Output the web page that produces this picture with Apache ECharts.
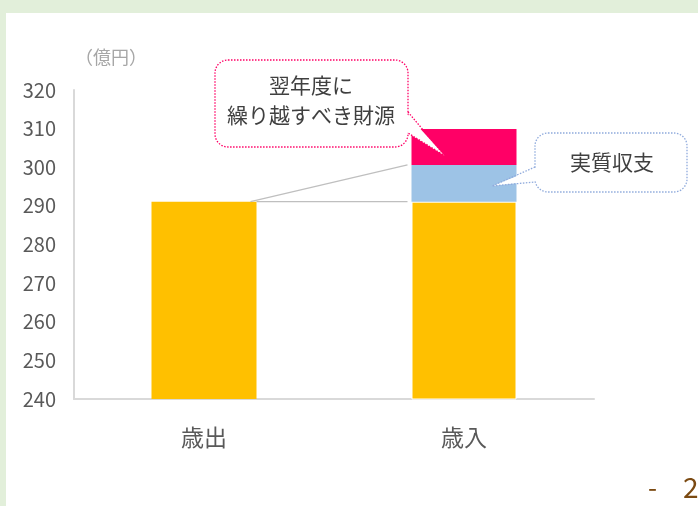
<!DOCTYPE html>
<html>
<head>
<meta charset="utf-8">
<script src="https://cdn.jsdelivr.net/npm/echarts@6/dist/echarts.min.js"></script>
<style>
  html, body { margin: 0; padding: 0; background: #fff; }
  #main { width: 698px; height: 506px; }
</style>
</head>
<body>
<div id="main"></div>
<script>
// data (億円)
const categories = ['歳出', '歳入']
const baseValues = [291.1, 291.1]          // 歳出 / 歳入 (yellow)
const realBalance = ['-', 9.5]             // 実質収支 (blue)
const carryOver = ['-', 9.3]               // 翌年度に繰り越すべき財源 (pink)
const yTicks = { min: 240, max: 320, step: 10 }

const FONT = '"Noto Sans CJK JP", "Noto Sans", sans-serif'
const TEXT = '#404040'
const BAR_W = 105

const chart = echarts.init(document.getElementById('main'))

// gray connector lines from the 歳出 bar top to the 歳入 bar
const connector = (params, api) => {
  const half = BAR_W / 2
  const a = api.coord([0, baseValues[0]])
  const b = api.coord([1, baseValues[1]])
  const c = api.coord([1, baseValues[1] + realBalance[1]])
  const style = { stroke: '#bfbfbf', lineWidth: 1.2, fill: null }
  return {
    type: 'group',
    children: [
      { type: 'line', shape: { x1: a[0] + half, y1: a[1], x2: b[0] - half - 4, y2: b[1] }, style },
      { type: 'line', shape: { x1: a[0] + half - 6, y1: a[1], x2: c[0] - half - 4, y2: c[1] }, style }
    ]
  }
}

const callout = (box, tail, color, lines, textPos) => {
  const dotted = { stroke: color, lineWidth: 1.3, lineDash: [1.5, 1.5], fill: '#fff' }
  return [
    { type: 'rect', z: 100, shape: { x: box[0], y: box[1], width: box[2], height: box[3], r: 13 }, style: dotted },
    { type: 'polygon', z: 101, shape: { points: tail.cover }, style: { fill: '#fff' } },
    { type: 'polyline', z: 102, shape: { points: tail.edge }, style: { ...dotted, fill: null } },
    {
      type: 'text', z: 103, x: textPos[0], y: textPos[1],
      style: {
        text: lines.join('\n'), fill: TEXT, font: '21px ' + FONT,
        align: 'center', verticalAlign: 'middle', lineHeight: 30
      }
    }
  ]
}

const option = {
  backgroundColor: '#fff',
  animation: false,
  textStyle: { fontFamily: FONT },
  grid: { left: 74, top: 90, width: 520, height: 309 },
  xAxis: {
    type: 'category',
    data: categories,
    axisLine: { lineStyle: { color: '#d9d9d9', width: 2 } },
    axisTick: { show: false },
    axisLabel: { color: '#595959', fontSize: 23, margin: 27, fontFamily: FONT }
  },
  yAxis: {
    type: 'value',
    min: yTicks.min,
    max: yTicks.max,
    interval: yTicks.step,
    axisLine: { show: true, lineStyle: { color: '#d9d9d9', width: 2 } },
    axisTick: { show: false },
    splitLine: { show: false },
    axisLabel: { color: '#595959', fontSize: 20, margin: 18, fontFamily: FONT }
  },
  series: [
    {
      type: 'bar', stack: 'total', barWidth: BAR_W,
      data: baseValues.map((v, i) => ({
        value: v,
        itemStyle: i === 1 ? { borderColor: '#fff', borderWidth: 1 } : {}
      })),
      itemStyle: { color: '#ffc000' }
    },
    {
      type: 'bar', stack: 'total', barWidth: BAR_W,
      data: realBalance, itemStyle: { color: '#9dc3e6' }
    },
    {
      type: 'bar', stack: 'total', barWidth: BAR_W,
      data: carryOver, itemStyle: { color: '#ff0066' }
    },
    {
      type: 'custom', renderItem: connector, data: [[0, baseValues[0]]], z: 5, silent: true
    }
  ],
  graphic: [
    // light green frame
    { type: 'rect', z: 0, shape: { x: 0, y: 0, width: 698, height: 13 }, style: { fill: '#e2efda' } },
    { type: 'rect', z: 0, shape: { x: 0, y: 0, width: 6, height: 506 }, style: { fill: '#e2efda' } },
    {
      type: 'text', x: 111, y: 57,
      style: { text: '（億円）', fill: '#a6a6a6', font: '18px ' + FONT, align: 'center', verticalAlign: 'middle' }
    },
    ...callout(
      [215, 60, 193, 87],
      { cover: [[406, 113], [445, 156], [406, 132]], edge: [[408, 112], [445, 156], [408, 133]] },
      '#ff0066', ['翌年度に', '繰り越すべき財源'], [311, 100]
    ),
    ...callout(
      [535, 133, 152, 59],
      { cover: [[537, 168], [492, 186], [537, 181]], edge: [[535, 167], [492, 186], [535, 182]] },
      '#8faadc', ['実質収支'], [612, 162]
    ),
    {
      type: 'text', x: 648, y: 487,
      style: { text: '-', fill: '#7b4a12', font: '26px ' + FONT, verticalAlign: 'middle' }
    },
    {
      type: 'text', x: 683, y: 487,
      style: { text: '2', fill: '#7b4a12', font: '28px ' + FONT, verticalAlign: 'middle' }
    }
  ]
}

chart.setOption(option)
</script>
</body>
</html>
